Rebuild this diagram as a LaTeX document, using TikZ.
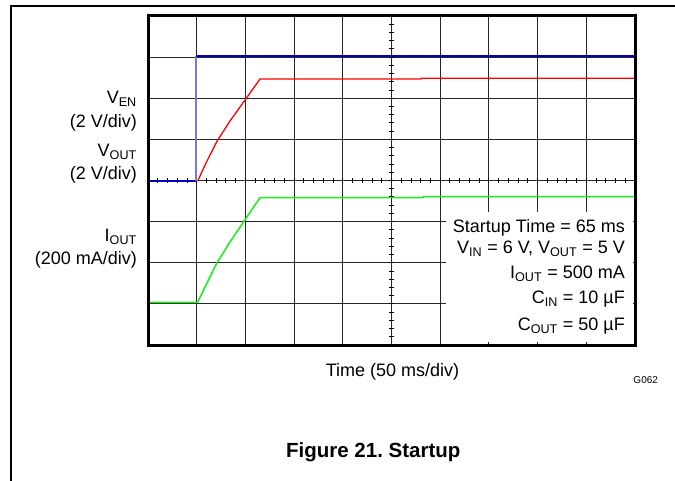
\documentclass[tikz,border=0pt]{standalone}
\usepackage{fontspec}
\setmainfont{Liberation Sans}
\usepackage{tikz}
\pgfdeclarelayer{background}
\pgfsetlayers{background,main}
\usetikzlibrary{positioning}
\definecolor{traceblue}{RGB}{0,0,200}
\definecolor{tracelight}{RGB}{120,120,235}
\definecolor{tracered}{RGB}{255,0,0}
\definecolor{tracegreen}{RGB}{20,240,20}
\frenchspacing
\newcommand{\Label}[3]% pos, name, text
{\node[anchor=base east,inner sep=0pt,font=\fontsize{18}{20}\selectfont] (#2) at (#1) {#3};
}
\newcommand{\Grid}[2]%
{ \begin{pgfonlayer}{background}
    \draw[gridline] (#1) -- (#2);
  \end{pgfonlayer}
}
\newcommand{\Trace}[2]%
{ \draw[line width=1.3pt,line join=round,#2] plot coordinates {#1};
}

\begin{document}
\begin{tikzpicture}[x=1pt,y=-1pt,
    gridline/.style={line width=1pt,black!85},
    tickmark/.style={line width=0.9pt,black}]
      \useasboundingbox (0,0) rectangle (675,481);
      % page frame
      \draw[line width=1.4pt] (11,481) -- (11,6) -- (675,6);
      % grid
      \foreach \i in {1,...,9} {\Grid{{148+\i*48.7},16}{{148+\i*48.7},345}}
      \foreach \j in {1,...,7} {\Grid{148,{16+\j*41.125}}{635,{16+\j*41.125}}}
      \foreach \k in {1,...,49} {\draw[tickmark] ({148+\k*9.74},178.5) -- ++(0,5);}
      \foreach \k in {1,...,39} {\draw[tickmark] (389.2,{16+\k*8.225}) -- ++(5,0);}
      % traces
      \Trace{(148,181) (196,181)}{traceblue,line width=1.6pt}
      \Trace{(196,181) (196,56.5)}{tracelight,line width=2pt}
      \Trace{(196,56.5) (635,56.5)}{traceblue,line width=2pt}
      \Trace{(197.7,181) (206,163) (216.7,141.7) (230,121) (246,98.7) (260,79) (421,79) (421,78.3) (635,78.3)}{tracered}
      \Trace{(148,302.3) (197.7,302.3) (206,285) (216.7,263.3) (230,242) (246,218.3) (260,197.7) (423,197.7) (423,196.7) (635,196.7)}{tracegreen,line width=1.5pt}
      % legend box
      \fill[white] (446,212) rectangle (633,342);
      \draw[line width=3pt] (148,16) rectangle (635,345);
      \Label{137,103.3}{VEN}{V\textsubscript{EN}}
      \Label{137,127.5}{VENdiv}{(2 V/div)}
      \Label{137,156.7}{VOUT}{V\textsubscript{OUT}}
      \Label{137,179.5}{VOUTdiv}{(2 V/div)}
      \Label{137,241.7}{IOUT}{I\textsubscript{OUT}}
      \Label{137,265}{IOUTdiv}{(200 mA/div)}
      \Label{625,232.7}{tstart}{Startup Time = 65 ms}
      \Label{625,253.3}{vin}{V\textsubscript{IN} = 6 V, V\textsubscript{OUT} = 5 V}
      \Label{625,279}{iout}{I\textsubscript{OUT} = 500 mA}
      \Label{625,304}{cin}{C\textsubscript{IN} = 10 µF}
      \Label{625,330.7}{cout}{C\textsubscript{OUT} = 50 µF}
      \node[anchor=base,inner sep=0pt,font=\fontsize{18}{20}\selectfont] (time) at (392.5,376.7) {Time (50 ms/div)};
      \node[anchor=base,inner sep=0pt,font=\fontsize{10}{12}\selectfont] (code) at (645.7,383.7) {G062};
      \node[anchor=base,inner sep=0pt,font=\fontsize{20.5}{24}\selectfont\bfseries] (title) at (373.3,457.3) {Figure 21. Startup};
    \end{tikzpicture}
\end{document}
